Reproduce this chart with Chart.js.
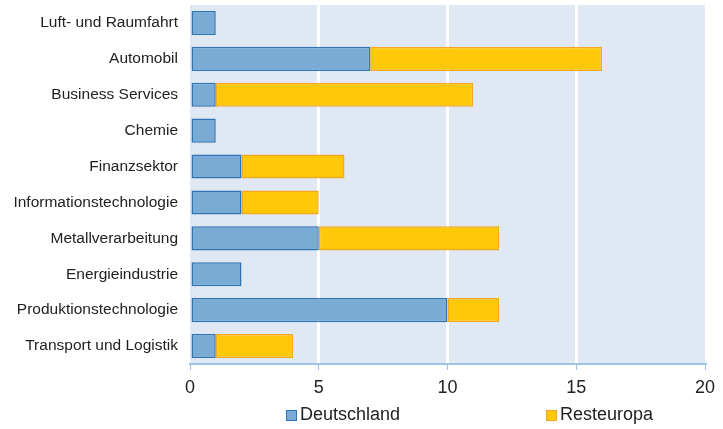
<!DOCTYPE html>
<html>
<head>
<meta charset="utf-8">
<script src="https://cdn.jsdelivr.net/npm/chart.js@4.4.0/dist/chart.umd.min.js"></script>
<style>
  html, body { margin: 0; padding: 0; background: #fff; }
  #wrap { position: relative; width: 723px; height: 429px; }
  .leg { position: absolute; top: 404px; font: 18px "Liberation Sans", Arial, sans-serif; color: #222; white-space: nowrap; }
  .leg i { display: inline-block; width: 11px; height: 11px; margin-right: 3px; vertical-align: -1px; box-sizing: border-box; }
</style>
</head>
<body>
<div id="wrap">
  <canvas id="myChart" width="723" height="429"></canvas>
  <div class="leg" style="left:286px"><i style="background:#7aabd4;border:1.5px solid #2e75b6"></i>Deutschland</div>
  <div class="leg" style="left:546px"><i style="background:#ffc90a;border:1.5px solid #f5a623"></i>Resteuropa</div>
</div>
<script>
var categories = ['Luft- und Raumfahrt', 'Automobil', 'Business Services', 'Chemie', 'Finanzsektor',
  'Informationstechnologie', 'Metallverarbeitung', 'Energieindustrie', 'Produktionstechnologie', 'Transport und Logistik'];
var deutschland = [1, 7, 1, 1, 2, 2, 5, 2, 10, 1];
var resteuropa  = [0, 9, 10, 0, 4, 3, 7, 0, 2, 3];
var xTicks = [0, 5, 10, 15, 20];

// light blue plot background
var plotBg = {
  id: 'plotBg',
  beforeDraw: function (chart) {
    var a = chart.chartArea, ctx = chart.ctx;
    ctx.save();
    ctx.fillStyle = '#e0e8f3';
    ctx.fillRect(a.left, a.top, a.right - a.left, a.bottom - a.top);
    ctx.restore();
  }
};

var canvas = document.getElementById('myChart');
new Chart(canvas, {
  type: 'bar',
  data: {
    labels: categories,
    datasets: [{
      label: 'Deutschland',
      data: deutschland,
      backgroundColor: '#7aabd4',
      borderColor: '#2e75b6',
      borderWidth: 1.5,
      borderSkipped: false
    }, {
      label: 'Resteuropa',
      data: resteuropa,
      backgroundColor: '#ffc90a',
      borderColor: '#f5a623',
      borderWidth: 1.5,
      borderSkipped: false
    }]
  },
  options: {
    indexAxis: 'y',
    responsive: false,
    animation: false,
    layout: { padding: { top: 5, right: 18, left: 0, bottom: 0 } },
    barPercentage: 0.67,
    categoryPercentage: 1,
    plugins: {
      legend: { display: false },
      tooltip: { enabled: false }
    },
    scales: {
      x: {
        stacked: true,
        min: 0,
        max: 20,
        afterBuildTicks: function (s) { s.ticks = xTicks.map(function (v) { return { value: v }; }); },
        afterFit: function (s) { s.height = 65; s.paddingLeft = 0; s.paddingRight = 0; },
        border: { color: '#9dc3e6', width: 2 },
        grid: {
          color: function (c) { return (c.tick && c.tick.value > 0 && c.tick.value < 20) ? '#ffffff' : 'rgba(0,0,0,0)'; },
          lineWidth: 3,
          tickColor: '#9dc3e6',
          tickLength: 6,
          tickWidth: 1
        },
        ticks: { padding: 7, color: '#222', font: { family: 'Liberation Sans', size: 18 } }
      },
      y: {
        stacked: true,
        afterFit: function (s) { s.width = 190; s.paddingTop = 0; s.paddingBottom = 0; },
        border: { display: false },
        grid: { display: false, drawTicks: false },
        ticks: { padding: 12, color: '#222', font: { family: 'Liberation Sans', size: 15.5 } }
      }
    }
  },
  plugins: [plotBg]
});
</script>
</body>
</html>
